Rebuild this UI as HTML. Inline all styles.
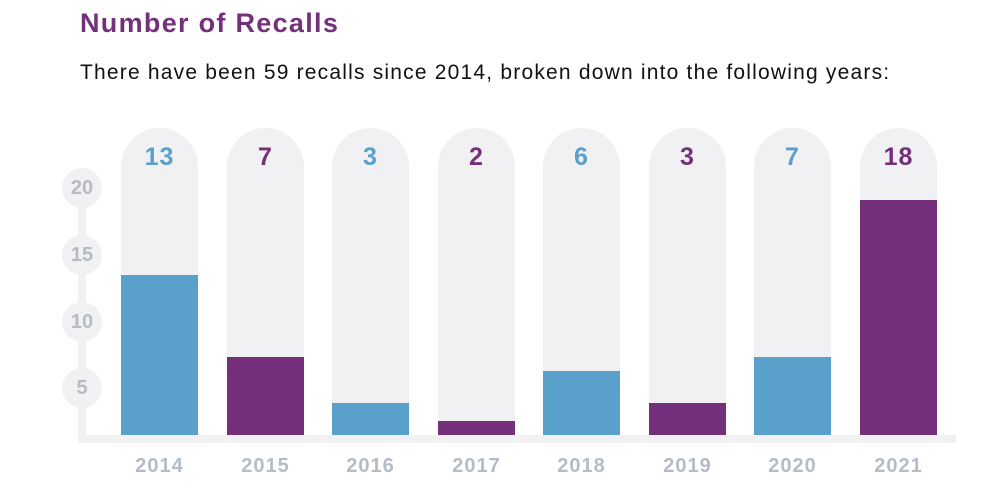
<!DOCTYPE html>
<html><head><style>
body{margin:0;width:1004px;height:496px;background:#fff;position:relative;overflow:hidden;font-family:"Liberation Sans",sans-serif}
.t{position:absolute;left:80px;top:8px;font-size:27px;font-weight:bold;color:#74307a;letter-spacing:1.3px}
.s{position:absolute;left:80px;top:61px;font-size:21px;color:#111;letter-spacing:1.2px}
.col{position:absolute;top:128px;width:77px;height:307px;background:#f1f1f3;border-radius:38.5px 38.5px 0 0}
.bar{position:absolute;width:77px}
.num{position:absolute;width:77px;top:143px;text-align:center;font-size:25px;font-weight:bold;letter-spacing:1px}
.yr{position:absolute;width:77px;top:455px;text-align:center;font-size:20px;font-weight:bold;color:#b5bcc5;letter-spacing:1px}
.c{position:absolute;left:62px;width:40px;height:40px;border-radius:50%;background:#f1f1f3;color:#b5bcc5;font-weight:bold;font-size:20px;text-align:center;line-height:40px}
.b{color:#59a0ca}.p{color:#74307a}
</style></head><body>
<div class="t">Number of Recalls</div>
<div class="s">There have been 59 recalls since 2014, broken down into the following years:</div>
<div style="position:absolute;left:78px;top:188px;width:8px;height:255px;background:#f1f1f3"></div>
<div style="position:absolute;left:78px;top:435px;width:878px;height:8px;background:#f1f1f3"></div>
<div class="c" style="top:168px">20</div>
<div class="c" style="top:235px">15</div>
<div class="c" style="top:302px">10</div>
<div class="c" style="top:368px">5</div>
<div class="col" style="left:121px"></div><div class="bar" style="left:121px;top:275px;height:160px;background:#59a0ca"></div><div class="num b" style="left:121px">13</div><div class="yr" style="left:121px">2014</div>
<div class="col" style="left:227px"></div><div class="bar" style="left:227px;top:357px;height:78px;background:#74307a"></div><div class="num p" style="left:227px">7</div><div class="yr" style="left:227px">2015</div>
<div class="col" style="left:332px"></div><div class="bar" style="left:332px;top:403px;height:32px;background:#59a0ca"></div><div class="num b" style="left:332px">3</div><div class="yr" style="left:332px">2016</div>
<div class="col" style="left:438px"></div><div class="bar" style="left:438px;top:421px;height:14px;background:#74307a"></div><div class="num p" style="left:438px">2</div><div class="yr" style="left:438px">2017</div>
<div class="col" style="left:543px"></div><div class="bar" style="left:543px;top:371px;height:64px;background:#59a0ca"></div><div class="num b" style="left:543px">6</div><div class="yr" style="left:543px">2018</div>
<div class="col" style="left:649px"></div><div class="bar" style="left:649px;top:403px;height:32px;background:#74307a"></div><div class="num p" style="left:649px">3</div><div class="yr" style="left:649px">2019</div>
<div class="col" style="left:754px"></div><div class="bar" style="left:754px;top:357px;height:78px;background:#59a0ca"></div><div class="num b" style="left:754px">7</div><div class="yr" style="left:754px">2020</div>
<div class="col" style="left:860px"></div><div class="bar" style="left:860px;top:200px;height:235px;background:#74307a"></div><div class="num p" style="left:860px">18</div><div class="yr" style="left:860px">2021</div>
</body></html>
